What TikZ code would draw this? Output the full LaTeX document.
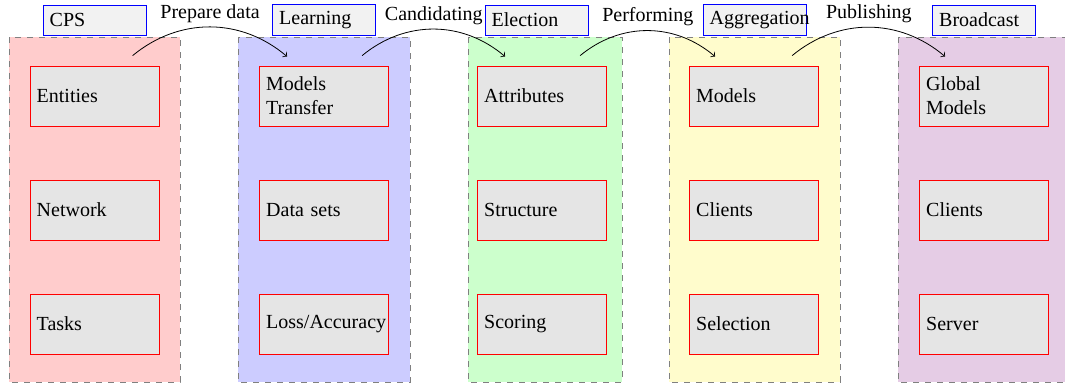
\documentclass[tikz,border=0pt]{standalone}
\usepackage{fontspec}
\setmainfont{Liberation Serif}
\usepackage{tikz}
\usepackage{xcolor}

\begin{document}
\begin{tikzpicture}[x=0.5pt, y=-0.5pt, font=\rmfamily,
    panel/.style={draw=gray, dashed},
    item/.style={rectangle, draw=red, fill=gray!20, text width=57.8pt, align=left, minimum height=30pt},
    head/.style={rectangle, draw=blue, fill=gray!10, text width=44.8pt, align=left, minimum height=15pt},
    step label/.style={above, inner sep=2pt}]
            \useasboundingbox (0,0) rectangle (1065,388);

            % stage panels
            \filldraw[panel, fill=red!20]    (9,37)   rectangle (180,382);
            \filldraw[panel, fill=blue!20]   (238,37) rectangle (410,382);
            \filldraw[panel, fill=green!20]  (468,37) rectangle (622,382);
            \filldraw[panel, fill=yellow!20] (669,37) rectangle (840,382);
            \filldraw[panel, fill=violet!20] (898,37) rectangle (1070,382);

            % stage titles
            \node[head] (cps)  at (94.5,20)  {CPS};
            \node[head] (lrn)  at (324,20)   {Learning};
            \node[head] (elec) at (536.5,20) {Election};
            \node[head] (aggr) at (754.5,20) {Aggregation};
            \node[head] (bcst) at (984,20)   {Broadcast};

            \node[item] (ent)   at (94.5,96)  {Entities};
            \node[item] (net)   at (94.5,210) {Network};
            \node[item] (task)  at (94.5,324) {Tasks};

            \node[item] (mtr)   at (324,96)   {Models\\Transfer};
            \node[item] (data)  at (324,210)  {Data sets};
            \node[item] (loss)  at (324,324)  {Loss/Accuracy};

            \node[item] (attr)  at (542,96)   {Attributes};
            \node[item] (struc) at (542,210)  {Structure};
            \node[item] (score) at (542,324)  {Scoring};

            \node[item] (mod)   at (754,96)   {Models};
            \node[item] (cli)   at (754,210)  {Clients};
            \node[item] (sel)   at (754,324)  {Selection};

            \node[item] (glob)  at (984,96)   {Global\\Models};
            \node[item] (bcli)  at (984,210)  {Clients};
            \node[item] (serv)  at (984,324)  {Server};

            \draw[->] ([xshift=51.5pt, yshift=5pt]ent.north west) to[bend left=40]
                node[step label] {Prepare data} ([xshift=14pt, yshift=4.5pt]mtr.north west);
            \draw[->] ([xshift=51.5pt, yshift=5pt]mtr.north west) to[bend left=40]
                node[step label] {Candidating} ([xshift=14pt, yshift=4.5pt]attr.north west);
            \draw[->] ([xshift=51.5pt, yshift=5pt]attr.north west) to[bend left=40]
                node[step label] {Performing} ([xshift=13pt, yshift=4.5pt]mod.north west);
            \draw[->] ([xshift=51.5pt, yshift=5pt]mod.north west) to[bend left=40]
                node[step label] {Publishing} ([xshift=13pt, yshift=4.5pt]glob.north west);
        \end{tikzpicture}
\end{document}
